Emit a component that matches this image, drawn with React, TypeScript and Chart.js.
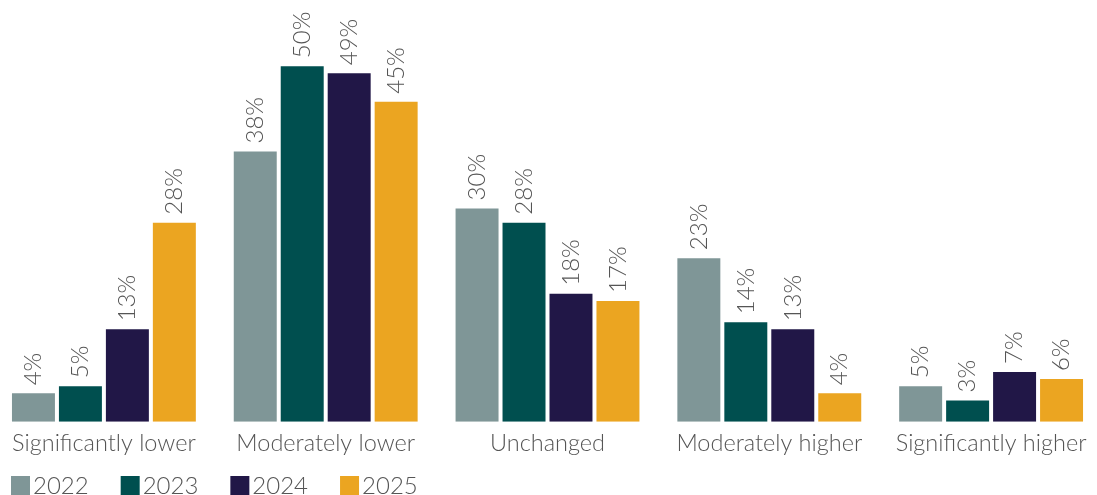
import React, { useEffect, useRef } from "react";
import { Chart, registerables } from "chart.js";

Chart.register(...registerables);

const categories = ["Significantly lower", "Moderately lower", "Unchanged", "Moderately higher", "Significantly higher"];
const years = ["2022", "2023", "2024", "2025"];
const values2022 = [4, 38, 30, 23, 5];
const values2023 = [5, 50, 28, 14, 3];
const values2024 = [13, 49, 18, 13, 7];
const values2025 = [28, 45, 17, 4, 6];
const colors = ["#7F9697", "#004F4F", "#211747", "#EBA521"];

const FONT = "Lato, 'Noto Sans', sans-serif";
const TEXT = "#555555";
const OFFSET_X = 7;

const rotatedLabels = {
  id: "rotatedLabels",
  afterDatasetsDraw(chart: any) {
    const ctx = chart.ctx;
    ctx.save();
    ctx.font = `300 24px ${FONT}`;
    ctx.fillStyle = TEXT;
    ctx.textAlign = "left";
    ctx.textBaseline = "middle";
    chart.data.datasets.forEach((ds: any, i: number) => {
      const meta = chart.getDatasetMeta(i);
      meta.data.forEach((bar: any, j: number) => {
        ctx.save();
        ctx.translate(bar.x, bar.y - 8);
        ctx.rotate(-Math.PI / 2);
        ctx.fillText(`${ds.data[j]}%`, 0, 0);
        ctx.restore();
      });
    });
    ctx.restore();
  },
};

const bottomLegend = {
  id: "bottomLegend",
  afterDraw(chart: any) {
    const ctx = chart.ctx;
    ctx.save();
    ctx.font = `300 24px ${FONT}`;
    ctx.textAlign = "left";
    ctx.textBaseline = "alphabetic";
    let x = 11 + OFFSET_X;
    const boxTop = 476;
    chart.data.datasets.forEach((ds: any) => {
      ctx.fillStyle = ds.backgroundColor;
      ctx.fillRect(x, boxTop, 19, 19);
      ctx.fillStyle = TEXT;
      ctx.fillText(ds.label, x + 22, 494);
      const w = ctx.measureText(ds.label).width;
      x += 22 + w + 32;
    });
    ctx.restore();
  },
};

export default function App() {
  const ref = useRef<HTMLCanvasElement>(null);
  useEffect(() => {
    document.body.style.overflow = "hidden";
    const series = [values2022, values2023, values2024, values2025];
    const chart = new Chart(ref.current!, {
      type: "bar",
      data: {
        labels: categories,
        datasets: years.map((y, i) => ({
          label: y,
          data: series[i],
          backgroundColor: colors[i],
          categoryPercentage: 0.847,
          barPercentage: 0.915,
        })),
      },
      options: {
        animation: false,
        responsive: false,
        maintainAspectRatio: false,
        layout: { padding: { top: 0, left: 0, right: 0, bottom: 37 } },
        plugins: {
          tooltip: { enabled: false },
          legend: { display: false },
        },
        scales: {
          x: {
            grid: { display: false },
            border: { display: false },
            ticks: {
              color: TEXT,
              font: { family: FONT, size: 23.5, weight: "300" as any },
              maxRotation: 0,
              autoSkip: false,
              padding: 0,
            },
          },
          y: {
            min: 0,
            max: 59.3,
            display: false,
          },
        },
      },
      plugins: [rotatedLabels, bottomLegend],
    });
    return () => chart.destroy();
  }, []);
  return (
    <div style={{ position: "fixed", left: -OFFSET_X, top: 0, width: 1109, height: 495 }}>
      <canvas ref={ref} width={1109} height={495} style={{ display: "block" }} />
    </div>
  );
}
